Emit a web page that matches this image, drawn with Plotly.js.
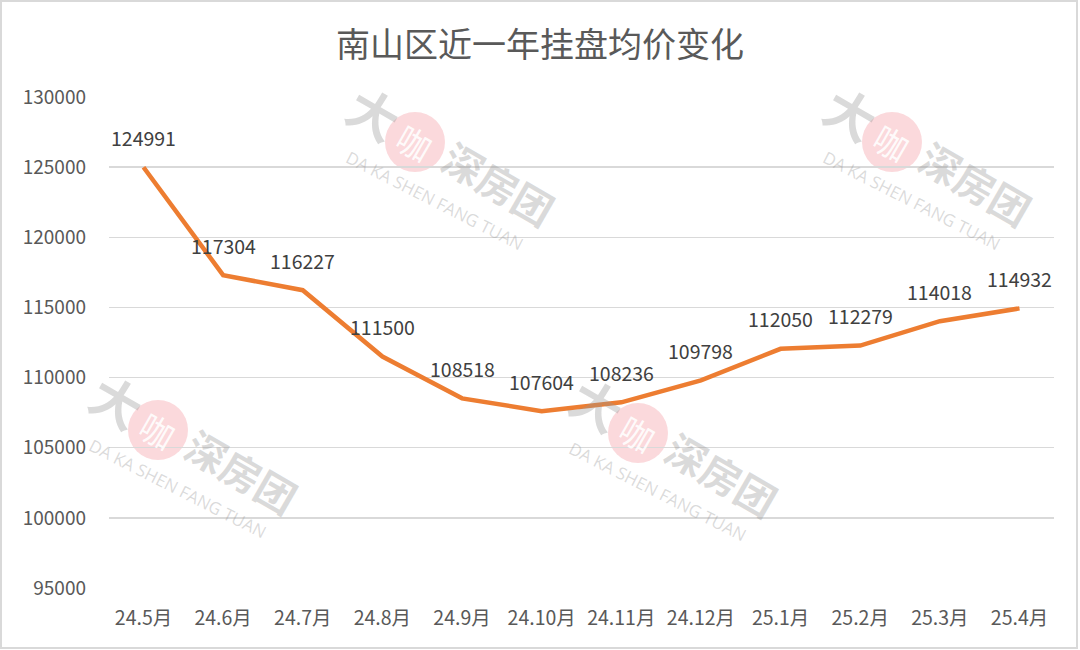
<!DOCTYPE html>
<html><head><meta charset="utf-8">
<script src="https://cdn.plot.ly/plotly-3.0.1.min.js"></script>
<style>
html,body{margin:0;padding:0;background:#fff;}
#chart{width:1080px;height:650px;position:absolute;left:0;top:0;}
#frame{position:absolute;left:0;top:0;width:1078px;height:649px;border:2px solid #d9d9d9;box-sizing:border-box;pointer-events:none;}
</style></head>
<body>
<div id="chart"></div><div id="frame"></div>
<script>
const months = ["24.5月","24.6月","24.7月","24.8月","24.9月","24.10月","24.11月","24.12月","25.1月","25.2月","25.3月","25.4月"];
const avgPrice = [124991,117304,116227,111500,108518,107604,108236,109798,112050,112279,114018,114932];
const titleText = "南山区近一年挂盘均价变化";

const W = 1080, H = 650;
const M = {l:109, r:26, t:97, b:62};
const PW = W - M.l - M.r, PH = H - M.t - M.b;
const px = x => (x - M.l) / PW;
const py = y => (H - M.b - y) / PH;

const font = '"Noto Sans CJK SC", "Noto Sans", sans-serif';

const annotations = months.map((m,i) => ({
  x: m, y: avgPrice[i], xref:'x', yref:'y', text: String(avgPrice[i]),
  showarrow:false, yshift:30, xanchor:'center', yanchor:'middle',
  font:{family:font, size:19.5, color:'#404040'}
}));

const shapes = [];
const anchors = [[375,112],[852,112],[118,400],[598,403]];
const wm = (x,y,text,size,angle,color,fam) => ({xref:'paper', yref:'paper', x:px(x), y:py(y), text:text,
  showarrow:false, textangle:angle, xanchor:'center', yanchor:'middle',
  font:{family:fam||font, size:size, color:color}});
anchors.forEach(([ax,ay]) => {
  const cx = ax+40, cy = ay+30, r = 30;
  shapes.push({type:'circle', xref:'paper', yref:'paper', layer:'below',
    x0:px(cx-r), x1:px(cx+r), y0:py(cy+r), y1:py(cy-r),
    fillcolor:'rgba(240,120,130,0.28)', line:{width:0}});
  annotations.push(wm(ax, ay, '<b>大</b>', 50, 30, 'rgba(150,150,150,0.35)'));
  annotations.push(wm(cx, cy, '咖', 34, 30, 'rgba(255,255,255,0.9)'));
  annotations.push(wm(ax+124, ay+71, '<b>深房团</b>', 40, 30, 'rgba(150,150,150,0.35)'));
  annotations.push(wm(ax+60, ay+88, 'DA KA SHEN FANG TUAN', 17, 27, 'rgba(150,150,150,0.35)', '"Open Sans", sans-serif'));
});

const trace = {
  x: months, y: avgPrice, type:'scatter', mode:'lines',
  line:{color:'#ED7D31', width:4.5}, hoverinfo:'skip'
};

const layout = {
  width:W, height:H, margin:M, paper_bgcolor:'#fff', plot_bgcolor:'#fff',
  showlegend:false,
  title:{text:titleText, x:0.5, xref:'container', y:1-45/H, yref:'container', yanchor:'middle', xanchor:'center',
    font:{family:font, size:34, color:'#595959'}},
  xaxis:{type:'category', showgrid:false, zeroline:false, showline:false, ticks:'',
    tickfont:{family:font, size:19.5, color:'#595959'}, ticklabelstandoff:16},
  yaxis:{range:[95000,130000], dtick:5000, tick0:95000, showgrid:true, gridcolor:'#d9d9d9', gridwidth:1.5,
    zeroline:false, showline:false, ticks:'', tickformat:'d',
    tickfont:{family:font, size:19, color:'#595959'}, ticklabelstandoff:22},
  annotations: annotations, shapes: shapes
};
Plotly.newPlot('chart', [trace], layout, {displayModeBar:false, staticPlot:true});
</script>
</body></html>
